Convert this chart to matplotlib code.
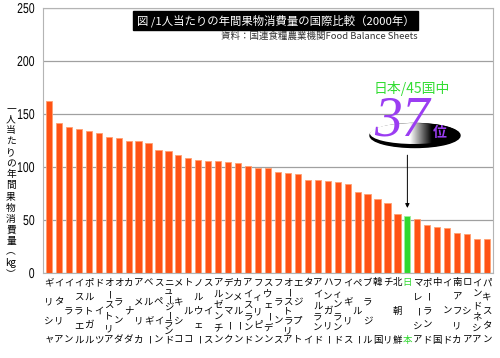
import matplotlib
matplotlib.use('Agg')
import matplotlib.pyplot as plt
import matplotlib.patheffects as pe
import numpy as np
from matplotlib.patches import Ellipse, Rectangle
from matplotlib.transforms import Affine2D

# 1人当たりの年間果物消費量 (kg), 2000年
countries = ['ギリシャ', 'イタリア', 'イラン', 'イスラエル', 'ポルトガル', 'ドイツ',
             'オーストリア', 'オランダ', 'カナダ', 'アメリカ', 'ベルギー', 'スペイン',
             'ニュージーランド', 'メキシコ', 'トルコ', 'ノルウェー', 'スイス', 'アルゼンチン',
             'デンマーク', 'カメルーン', 'アイスランド', 'フィリピン', 'スウェーデン', 'フランス',
             'オーストラリア', 'エジプト', 'タイ', 'アイルランド', 'ハンガリー', 'フィンランド',
             'イギリス', 'ペルー', 'ブラジル', '韓国', 'チリ', '北朝鮮', '日本',
             'マレーシア', 'ポーランド', '中国', 'インド', '南アフリカ', 'ロシア',
             'インドネシア', 'パキスタン']
values = [162, 141.5, 138, 136, 134, 132, 128, 127, 125, 124.5, 122.5, 116.5,
          115.5, 111.5, 108.5, 107, 106, 106, 105, 104, 101, 99, 99, 95.5,
          94, 93.5, 88, 88, 86.5, 86, 84, 76, 74.5, 69.5, 66.5, 55.5, 53.5,
          50.5, 45.5, 43, 42.5, 37.5, 36.5, 32.5, 32.5]
japan = '日本'

title = '図 /1人当たりの年間果物消費量の国際比較（2000年）'
source = '資料：国連食糧農業機関Food Balance Sheets'
ylabel = ['一', '人', '当', 'た', 'り', 'の', '年', '間', '果', '物', '消', '費', '量', '︵', 'kg', '︶']

plt.rcParams['font.family'] = ['Noto Sans CJK JP', 'DejaVu Sans']


class Stretch(pe.AbstractPathEffect):
    # tall narrow digits: scale about right end / vertical middle of the glyphs
    def __init__(self, sx, sy):
        super().__init__()
        self.sx, self.sy = sx, sy

    def draw_path(self, renderer, gc, tpath, affine, rgbFace=None):
        v = tpath.vertices
        if len(v):
            xr = v[:, 0].max()
            ym = (v[:, 1].min() + v[:, 1].max()) / 2
        else:
            xr = ym = 0
        t = (Affine2D().translate(-xr, -ym).scale(self.sx, self.sy)
             .translate(xr, ym) + affine)
        renderer.draw_path(gc, tpath, t, rgbFace)


W, H = 500, 358
fig = plt.figure(figsize=(W / 100, H / 100), dpi=100)
ax = fig.add_axes([43 / W, 1 - 273 / H, 450 / W, 265 / H])

orange = '#ff5214'
green = '#2fd82f'
purple = '#9b3df2'

x = np.arange(len(countries))
jidx = countries.index(japan)
colors = [green if c == japan else orange for c in countries]
edges = ['#9cf09c' if c == japan else '#ffa070' for c in countries]
ax.bar(x, values, width=0.62, color=colors, edgecolor=edges, linewidth=0.6, zorder=2)

ax.set_xlim(-0.6, len(countries) - 0.4)
ax.set_ylim(0, 250)
ax.set_yticks(range(0, 251, 50))
ax.set_xticks([])
ax.grid(axis='y', color='#a0a0a0', lw=0.9, zorder=0)
for s in ax.spines.values():
    s.set_color('#b4b4b4')
    s.set_linewidth(0.8)
ax.tick_params(length=0, pad=6, labelsize=8.2)
for lab in ax.get_yticklabels():
    lab.set_fontfamily('Liberation Sans')
    lab.set_path_effects([Stretch(0.92, 1.25)])

# vertical country names, spread between top and bottom
top_pt, bot_pt = 10 * 0.72, 67 * 0.72
for i, name in enumerate(countries):
    n = len(name)
    col = green if name == japan else 'black'
    for k, ch in enumerate(name):
        off = top_pt + (bot_pt - top_pt) * k / (n - 1) if n > 1 else top_pt
        ax.annotate(ch, xy=(i, 0), xycoords=('data', 'axes fraction'),
                    xytext=(0, -off), textcoords='offset points',
                    ha='center', va='center', fontsize=6.8, color=col,
                    rotation=-90 if ch in 'ー（）' else 0, annotation_clip=False)

# arrow to Japan
ax.annotate('', xy=(jidx, values[jidx]), xytext=(0, 44), textcoords='offset points',
            arrowprops=dict(arrowstyle='-|>', color='black', lw=0.7,
                            shrinkA=0, shrinkB=6, mutation_scale=6))

# overlay in pixel coords for texts and badge
ov = fig.add_axes([0, 0, 1, 1])
ov.set_xlim(0, W)
ov.set_ylim(H, 0)
ov.axis('off')

ov.add_patch(Rectangle((133, 11), 285, 19, color='black'))
ov.text(275.5, 20.5, title, color='white', fontsize=8.2, ha='center', va='center')
ov.text(418, 36, source, color='#333333', fontsize=6.8, ha='right', va='center')

# vertical y label as one stacked text
ov.text(11, 191, '\n'.join(ylabel), ha='center', va='center', fontsize=7,
        linespacing=1.13, multialignment='center')

# badge: black disc with gradient
ov.add_patch(Ellipse((415, 135.5), 90, 24, color='black', zorder=1))
clip = Ellipse((414, 133.5), 88, 21, transform=ov.transData)
grad = np.clip((np.linspace(370, 460, 200) - 410) / 22, 0, 1)[None, :]
im = ov.imshow(grad, cmap='gray_r', vmin=0, vmax=1, extent=[370, 460, 147, 123],
               aspect='auto', zorder=2)
im.set_clip_path(clip)
ov.set_xlim(0, W)
ov.set_ylim(H, 0)

ov.text(412, 88, '日本/45国中', color='#33dd33', fontsize=10, ha='center', va='center', zorder=3)
ov.text(402, 135, '37', color=purple, fontsize=40, family='Liberation Serif', style='italic',
        ha='center', va='baseline', zorder=3)
ov.text(440, 137, '位', color=purple, fontsize=10, fontweight='bold', ha='center',
        va='baseline', zorder=3)

fig.savefig('out.png', dpi=100)
